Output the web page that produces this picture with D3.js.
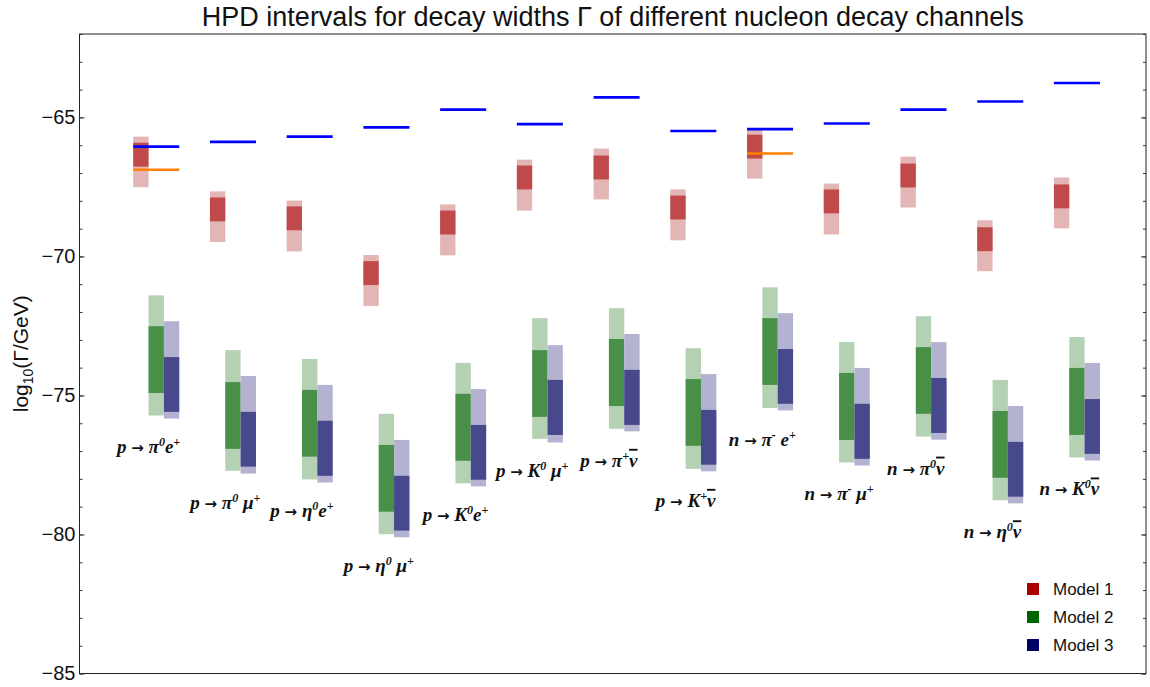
<!DOCTYPE html>
<html><head><meta charset="utf-8">
<script src="https://cdn.jsdelivr.net/npm/d3@7"></script>
<style>body{margin:0;background:#fff} svg{display:block}</style>
</head><body><svg id="c" width="1150" height="687"></svg>
<script>
// ---- data ----
const channelIndex = [1,2,3,4,5,6,7,8,9,10,11,12,13];
// label pieces: [text, isSuperscript, hasOverline]
const channelLabels = [
  [["p → π",0],["0",1],["e",0],["+",1]],
  [["p → π",0],["0",1],[" μ",0],["+",1]],
  [["p →  η",0],["0",1],["e",0],["+",1]],
  [["p →  η",0],["0",1],[" μ",0],["+",1]],
  [["p → K",0],["0",1],["e",0],["+",1]],
  [["p → K",0],["0",1],[" μ",0],["+",1]],
  [["p → π",0],["+",1],["ν",0,1]],
  [["p → K",0],["+",1],["ν",0,1]],
  [["n → π",0],["-",1],[" e",0],["+",1]],
  [["n → π",0],["-",1],[" μ",0],["+",1]],
  [["n → π",0],["0",1],["ν",0,1]],
  [["n →  η",0],["0",1],["ν",0,1]],
  [["n → K",0],["0",1],["ν",0,1]]
];
// Model 1 (red): outer interval hi/lo, inner interval hi/lo
const m1OuterHi = [-65.69,-67.66,-67.99,-69.95,-68.13,-66.52,-66.12,-67.59,-65.41,-67.38,-66.41,-68.70,-67.16];
const m1InnerHi = [-65.91,-67.88,-68.20,-70.17,-68.35,-66.73,-66.37,-67.81,-65.62,-67.59,-66.66,-68.95,-67.41];
const m1InnerLo = [-66.77,-68.74,-69.06,-71.03,-69.21,-67.59,-67.23,-68.67,-66.48,-68.45,-67.52,-69.81,-68.27];
const m1OuterLo = [-67.51,-69.48,-69.82,-71.78,-69.96,-68.35,-67.95,-69.42,-67.20,-69.21,-68.24,-70.53,-68.99];
// Model 2 (green)
const m2OuterHi = [-71.40,-73.37,-73.69,-75.66,-73.83,-72.22,-71.86,-73.30,-71.11,-73.08,-72.15,-74.44,-72.90];
const m2InnerHi = [-72.51,-74.52,-74.80,-76.78,-74.94,-73.37,-72.97,-74.41,-72.22,-74.19,-73.26,-75.56,-74.01];
const m2InnerLo = [-74.91,-76.92,-77.20,-79.18,-77.35,-75.77,-75.38,-76.81,-74.62,-76.60,-75.66,-77.96,-76.42];
const m2OuterLo = [-75.72,-77.71,-78.02,-79.99,-78.16,-76.56,-76.20,-77.64,-75.45,-77.41,-76.48,-78.77,-77.23];
// Model 3 (blue)
const m3OuterHi = [-72.33,-74.30,-74.62,-76.60,-74.77,-73.19,-72.79,-74.23,-72.04,-74.01,-73.08,-75.38,-73.83];
const m3InnerHi = [-73.62,-75.59,-75.91,-77.89,-76.06,-74.44,-74.08,-75.52,-73.33,-75.30,-74.37,-76.67,-75.13];
const m3InnerLo = [-75.59,-77.56,-77.89,-79.86,-78.03,-76.42,-76.06,-77.49,-75.30,-77.28,-76.35,-78.64,-77.10];
const m3OuterLo = [-75.83,-77.81,-78.13,-80.10,-78.27,-76.69,-76.29,-77.73,-75.54,-77.52,-76.59,-78.88,-77.34];
// experimental limits
const blueLimit = [-66.05,-65.88,-65.69,-65.36,-64.72,-65.24,-64.28,-65.49,-65.42,-65.22,-64.72,-64.43,-63.76];
const orangeLimit = [-66.88,null,null,null,null,null,null,null,-66.30,null,null,null,null];
const yMajorTicks = [-85,-80,-75,-70,-65];
const yMinorTicks = d3.range(-85,-61,1);
const legendLabels = ["Model 1","Model 2","Model 3"];

// ---- layout ----
const svg = d3.select("#c");
const L = 79.5, R = 1146, T = 34, B = 673.5;
const x = d3.scaleLinear().domain([0, 13.9]).range([L, R]);
const y = d3.scaleLinear().domain([-85, -62]).range([B, T]);

const models = [
  {off:-0.3, oh:m1OuterHi, ih:m1InnerHi, il:m1InnerLo, ol:m1OuterLo, light:"#e4b5b5", dark:"#c04a4a"},
  {off:-0.1, oh:m2OuterHi, ih:m2InnerHi, il:m2InnerLo, ol:m2OuterLo, light:"#b4d1b4", dark:"#488f48"},
  {off: 0.1, oh:m3OuterHi, ih:m3InnerHi, il:m3InnerLo, ol:m3OuterLo, light:"#b3b3d1", dark:"#48488c"}
];
const bw = 0.2;
const gBars = svg.append("g");
models.forEach(m => {
  const g = gBars.append("g");
  g.selectAll("rect.o").data(channelIndex).join("rect").attr("class","o")
    .attr("x", (c)=>x(c+m.off)).attr("width", (c)=>x(c+m.off+bw)-x(c+m.off))
    .attr("y", (c,i)=>y(m.oh[i])).attr("height",(c,i)=>y(m.ol[i])-y(m.oh[i]))
    .attr("fill", m.light);
  g.selectAll("rect.i").data(channelIndex).join("rect").attr("class","i")
    .attr("x", (c)=>x(c+m.off)).attr("width", (c)=>x(c+m.off+bw)-x(c+m.off))
    .attr("y", (c,i)=>y(m.ih[i])).attr("height",(c,i)=>y(m.il[i])-y(m.ih[i]))
    .attr("fill", m.dark);
});

// limit lines
svg.append("g").selectAll("line").data(channelIndex).join("line")
  .attr("x1", c=>x(c-0.3)).attr("x2", c=>x(c+0.3))
  .attr("y1", (c,i)=>y(blueLimit[i])).attr("y2",(c,i)=>y(blueLimit[i]))
  .attr("stroke","#0000ff").attr("stroke-width",2.6);
svg.append("g").selectAll("line").data(channelIndex.filter((c,i)=>orangeLimit[i]!==null)).join("line")
  .attr("x1", c=>x(c-0.3)).attr("x2", c=>x(c+0.3))
  .attr("y1", c=>y(orangeLimit[c-1])).attr("y2",c=>y(orangeLimit[c-1]))
  .attr("stroke","#ff8000").attr("stroke-width",2.6);

// channel labels
const lab = svg.append("g").attr("font-family","'Liberation Serif','DejaVu Serif',serif")
  .attr("font-weight","bold").attr("font-style","italic").attr("font-size",19).attr("fill","#111");
channelIndex.forEach((c,i) => {
  const t = lab.append("text").attr("x", x(c-0.1)).attr("y", y(m2OuterLo[i]) + 38).attr("text-anchor","middle");
  let prevSup = false;
  channelLabels[i].forEach(p => {
    if (!p[1] && p[0].includes("→")) {
      const parts = p[0].split("→");
      const a = t.append("tspan").text(parts[0]);
      if (prevSup) a.attr("dy", 7);
      t.append("tspan").text("→").attr("font-family","'DejaVu Sans',sans-serif").attr("font-style","normal").attr("font-size",15);
      t.append("tspan").text(parts[1]);
      prevSup = false;
      return;
    }
    const ts = t.append("tspan").text(p[0]);
    if (p[1]) { ts.attr("font-size",12).attr("dy", prevSup ? 0 : -7); }
    else if (prevSup) { ts.attr("dy", 7); }
    if (p[2]) ts.style("text-decoration","overline");
    prevSup = !!p[1];
  });
});

// frame & axes
const axG = svg.append("g");
axG.append("rect").attr("x",L).attr("y",T).attr("width",R-L).attr("height",B-T)
  .attr("fill","none").attr("stroke","#222").attr("stroke-width",1);
const leftMinor = axG.append("g").attr("transform",`translate(${L},0)`)
  .call(d3.axisLeft(y).tickValues(yMinorTicks).tickSizeInner(-3).tickSizeOuter(0).tickFormat(""));
const leftMajor = axG.append("g").attr("transform",`translate(${L},0)`)
  .call(d3.axisLeft(y).tickValues(yMajorTicks).tickSizeInner(-5).tickSizeOuter(0).tickPadding(4));
const rightMinor = axG.append("g").attr("transform",`translate(${R},0)`)
  .call(d3.axisRight(y).tickValues(yMinorTicks).tickSizeInner(-3).tickSizeOuter(0).tickFormat(""));
const rightMajor = axG.append("g").attr("transform",`translate(${R},0)`)
  .call(d3.axisRight(y).tickValues(yMajorTicks).tickSizeInner(-5).tickSizeOuter(0).tickFormat(""));
axG.selectAll(".domain").remove();
axG.selectAll(".tick line").attr("stroke","#333");
leftMajor.selectAll("text").attr("font-family","'Liberation Sans',Arial,sans-serif").attr("font-size",20).attr("fill","#111");

// title
svg.append("text").attr("x",(L+R)/2).attr("y",26).attr("text-anchor","middle")
  .attr("font-family","'Liberation Sans',Arial,sans-serif").attr("font-size",27).attr("fill","#111")
  .text("HPD intervals for decay widths Γ of different nucleon decay channels");
// y label
const yl = svg.append("text").attr("transform",`translate(28,${(T+B)/2}) rotate(-90)`).attr("text-anchor","middle")
  .attr("font-family","'Liberation Sans',Arial,sans-serif").attr("font-size",21).attr("fill","#111");
yl.append("tspan").text("log");
yl.append("tspan").text("10").attr("font-size",14).attr("dy",5);
yl.append("tspan").text("(Γ/GeV)").attr("dy",-5);

// legend
const legColors = ["#aa0000","#006400","#000066"];
const leg = svg.append("g");
legendLabels.forEach((t,i)=>{
  const cy = 589 + i*28;
  leg.append("rect").attr("x",1027).attr("y",cy-6).attr("width",12).attr("height",12).attr("fill",legColors[i]);
  leg.append("text").attr("x",1053).attr("y",cy).attr("dominant-baseline","central")
    .attr("font-family","'Liberation Sans',Arial,sans-serif").attr("font-size",17).attr("fill","#111").text(t);
});
</script></body></html>
